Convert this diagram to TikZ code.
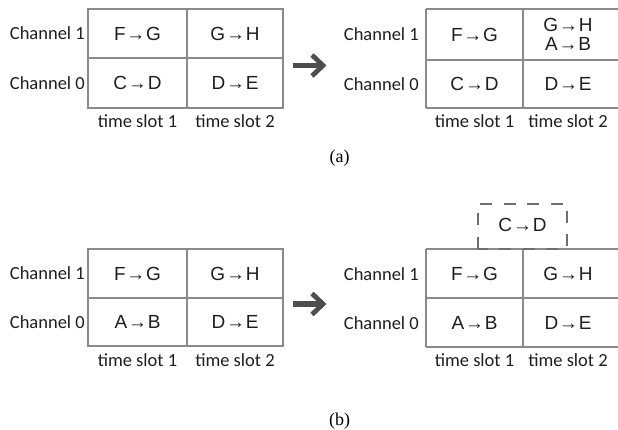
\documentclass[tikz,border=0pt]{standalone}
\usepackage{fontspec}
\setmainfont{Liberation Sans}
\newfontfamily\labelfont{Carlito}
\newfontfamily\capfont{Liberation Serif}
\definecolor{textdark}{HTML}{1E1E1E}
\definecolor{gridgray}{HTML}{8A8A8A}
\definecolor{arrowgray}{HTML}{4D4D4D}
\definecolor{dashgray}{HTML}{6E6E6E}
% link arrow between two node letters
\newcommand\lnk{\kern0.8pt→\kern0.8pt}
\begin{document}
\begin{tikzpicture}[x=1pt,y=-1pt,
  gridline/.style={draw=gridgray, line width=1.3pt},
  celltext/.style={font=\fontsize{19}{21}\selectfont, text=textdark, inner sep=0pt, align=center},
  chanlabel/.style={font=\labelfont\fontsize{18.5}{20}\selectfont, text=textdark, anchor=east, inner sep=0pt},
  slotlabel/.style={font=\labelfont\fontsize{18.5}{20}\selectfont, text=textdark, inner sep=0pt},
  caption/.style={font=\capfont\fontsize{18}{20}\selectfont, text=black, inner sep=0pt},
  shaft/.style={draw=arrowgray, line width=5.5pt},
  chevron/.style={draw=arrowgray, line width=4.8pt, line join=miter},
  pending/.style={draw=dashgray, line width=2.5pt, dash pattern=on 12pt off 11.5pt},
]
\clip (0,0) rectangle (618,430);

% ---------- (a) before ----------
\draw[gridline] (88,9) rectangle (283,108) (187,9) -- (187,108) (88,58) -- (283,58);
\node[chanlabel] (a1ch1) at (85,33.5) {Channel 1};
\node[chanlabel] (a1ch0) at (85,83) {Channel 0};
\node[celltext] (a1fg) at (137.5,33.5) {F\lnk G};
\node[celltext] (a1gh) at (235,33.5) {G\lnk H};
\node[celltext] (a1cd) at (137.5,83) {C\lnk D};
\node[celltext] (a1de) at (235,83) {D\lnk E};
\node[slotlabel] (a1t1) at (137.5,121.5) {time slot 1};
\node[slotlabel] (a1t2) at (235,121.5) {time slot 2};

% transition arrow
\draw[shaft] (293,65.5) -- (321,65.5);
\draw[chevron] (312,55) -- (323,65.5) -- (312,76);

% ---------- (a) after ----------
\draw[gridline] (426,9) -- (621,9) (426,108) -- (621,108) (426,60) -- (621,60)
                (426,9) -- (426,108) (523,9) -- (523,108);
\node[chanlabel] (a2ch1) at (419,34.5) {Channel 1};
\node[chanlabel] (a2ch0) at (419,84) {Channel 0};
\node[celltext] (a2fg) at (474.5,34.5) {F\lnk G};
\node[celltext] (a2gh) at (568,24.5) {G\lnk H};
\node[celltext] (a2ab) at (568,43.5) {A\lnk B};
\node[celltext] (a2cd) at (474.5,84) {C\lnk D};
\node[celltext] (a2de) at (568,84) {D\lnk E};
\node[slotlabel] (a2t1) at (474.5,121.5) {time slot 1};
\node[slotlabel] (a2t2) at (568,121.5) {time slot 2};

\node[caption] (capa) at (339.5,158) {(a)};

% ---------- (b) before ----------
\draw[gridline] (88,249) rectangle (283,346) (187,249) -- (187,346) (88,298) -- (283,298);
\node[chanlabel] (b1ch1) at (85,273.5) {Channel 1};
\node[chanlabel] (b1ch0) at (85,322) {Channel 0};
\node[celltext] (b1fg) at (137.5,273.5) {F\lnk G};
\node[celltext] (b1gh) at (235,273.5) {G\lnk H};
\node[celltext] (b1ab) at (137.5,322) {A\lnk B};
\node[celltext] (b1de) at (235,322) {D\lnk E};
\node[slotlabel] (b1t1) at (137.5,360) {time slot 1};
\node[slotlabel] (b1t2) at (235,360) {time slot 2};

% transition arrow
\draw[shaft] (293,304) -- (321,304);
\draw[chevron] (312,293.5) -- (323,304) -- (312,314.5);

% ---------- (b) after ----------
\draw[gridline] (426,249) -- (621,249) (426,347) -- (621,347) (426,298) -- (621,298)
                (426,249) -- (426,347) (523,249) -- (523,347);
\node[chanlabel] (b2ch1) at (419,274) {Channel 1};
\node[chanlabel] (b2ch0) at (419,323) {Channel 0};
\node[celltext] (b2fg) at (474.5,273.5) {F\lnk G};
\node[celltext] (b2gh) at (568,273.5) {G\lnk H};
\node[celltext] (b2ab) at (474.5,322.5) {A\lnk B};
\node[celltext] (b2de) at (568,322.5) {D\lnk E};
\node[slotlabel] (b2t1) at (474.5,360) {time slot 1};
\node[slotlabel] (b2t2) at (568,360) {time slot 2};

% pending link waiting above the table
\draw[pending] (478,249) rectangle (567,204);
\node[celltext] (b2cd) at (522.5,225) {C\lnk D};

\node[caption] (capb) at (339.5,421) {(b)};
\end{tikzpicture}
\end{document}
